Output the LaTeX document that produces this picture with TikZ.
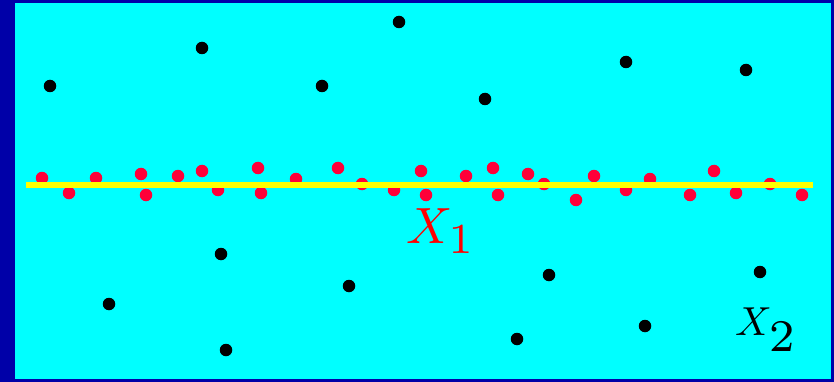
\documentclass[tikz,border=0pt]{standalone}
\usepackage{graphicx}
\usepackage{xcolor}
\usepackage{tikz}
\usetikzlibrary{positioning}

\definecolor{frameblue}{RGB}{0,0,168}
\definecolor{bgcyan}{RGB}{0,255,255}
\definecolor{dotred}{RGB}{255,0,56}
\definecolor{lineyellow}{RGB}{255,255,0}

\begin{document}
\begin{tikzpicture}[
    x=1pt, y=-1pt,
    dot/.style={circle, inner sep=0pt, minimum size=12.5pt},
    outlier/.style={dot, fill=black},
    inlier/.style={dot, fill=dotred},
    fitline/.style={draw=lineyellow, line width=5.5pt},
    axislabel/.style={inner sep=0pt, anchor=base west}
]

  % frame and background
  \fill[frameblue] (0,0) rectangle (834,382);
  \fill[bgcyan] (15,3) rectangle (831,379);

  % black points (off the line)
  \foreach \x/\y [count=\i] in {50/86, 202/48, 322/86, 399/22, 485/99, 626/62, 746/70,
                               221/254, 109/304, 349/286, 226/350, 549/275, 760/272, 517/339, 645/326}
  \node[outlier] (out-\i) at (\x,\y) {};

  % red points (near the line)
  \foreach \x/\y [count=\i] in {42/178, 69/193, 96/178, 141/174, 146/195, 178/176, 202/171, 218/190,
                               258/168, 261/193, 296/179, 338/168, 362/184, 394/190, 421/171, 426/195,
                               466/176, 493/168, 498/195, 528/174, 544/184, 576/200, 594/176, 626/190,
                               650/179, 690/195, 714/171, 736/193, 770/184, 802/195}
  \node[inlier] (in-\i) at (\x,\y) {};

  % fitted line
  \coordinate (fit-w) at (26,185);
  \coordinate (fit-e) at (813,185);
  \draw[fitline] (fit-w) -- (fit-e);

  % labels
  \node[axislabel, text=red] (lab-x1) at (406,243)
    {\scalebox{5.1}{$X_{\raisebox{-0.5pt}{\scalebox{1.2}{$\scriptstyle 1$}}}$}};
  \node[axislabel] (lab-x2) at (735,335)
    {\scalebox{4.05}{$X_{\raisebox{-2.5pt}{\scalebox{1.6}{$\scriptstyle 2$}}}$}};

\end{tikzpicture}
\end{document}
